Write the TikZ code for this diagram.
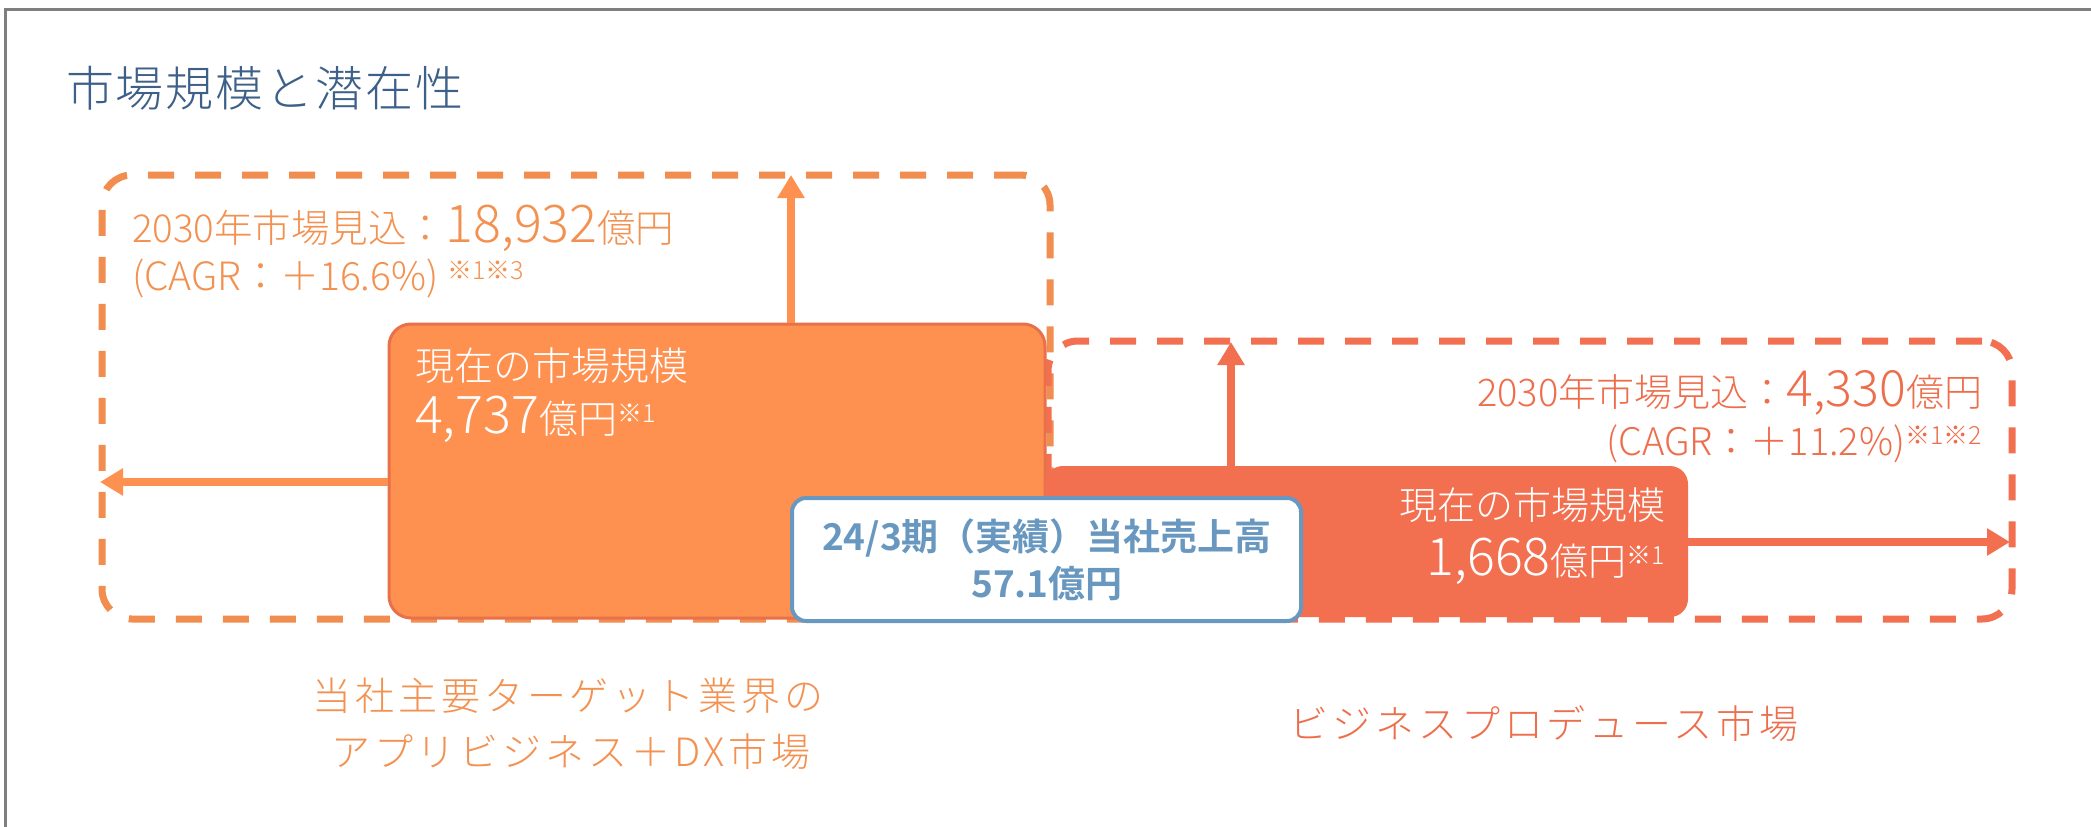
\documentclass[tikz,border=0pt]{standalone}
\usepackage{fontspec}
\IfFontExistsTF{Noto Sans CJK JP Light}{\def\basefam{Noto Sans CJK JP Light}}{\def\basefam{Noto Sans CJK JP}}
\setmainfont{\basefam}[BoldFont={Noto Sans CJK JP Bold}]
\newfontfamily\titlefont[LetterSpace=4]{\basefam}
\newfontfamily\lblfont[LetterSpace=10]{\basefam}
\usetikzlibrary{arrows.meta}
\definecolor{frameC}{HTML}{7F7F7F}
\definecolor{dashL}{HTML}{F28D50}
\definecolor{fillL}{HTML}{FE9150}
\definecolor{edgeL}{HTML}{E8704A}
\definecolor{redO}{HTML}{F27050}
\definecolor{txtL}{HTML}{F39150}
\definecolor{txtR}{HTML}{EE6E4C}
\definecolor{blueT}{HTML}{6898C0}
\definecolor{titleC}{HTML}{3D6089}
\newcommand{\fs}[1]{\fontsize{#1}{#1}\selectfont}
\newcommand{\note}[1]{\raisebox{11pt}{\fs{25}#1}}
\begin{document}
\begin{tikzpicture}[x=1pt,y=-1pt,
  dashbox/.style={draw, dash pattern=on 26pt off 21pt, line width=7pt, rounded corners=30pt, inner sep=0pt},
  fillbox/.style={inner sep=0pt},
  arrL/.style={draw=fillL, line width=8pt, -{Triangle[length=23pt,width=26pt]}},
  arrR/.style={draw=redO, line width=8pt, -{Triangle[length=23pt,width=26pt]}},
  txt/.style={inner sep=0pt, outer sep=0pt}]
\useasboundingbox (0,0) rectangle (2091,827);
\fill[white] (0,0) rectangle (2091,827);
\draw[frameC, line width=3pt] (5,827) -- (5,9) -- (2091,9);
% dashed outline boxes
\node[dashbox, draw=dashL, minimum width=948pt, minimum height=444pt] (ldash) at (576,397) {};
\node[dashbox, draw=redO, minimum width=964pt, minimum height=278pt] (rdash) at (1530,480) {};
% arrow end points
\coordinate (upL) at (791,175);
\coordinate (leftL) at (100,482);
\coordinate (upR) at (1231,342);
\coordinate (rightR) at (2010,542);
% filled boxes
\node[fillbox, fill=fillL, draw=edgeL, line width=3pt, rounded corners=22pt, minimum width=656pt, minimum height=294pt] (lfill) at (717,471) {};
\node[fillbox, fill=redO, rounded corners=18pt, minimum width=643pt, minimum height=151pt] (rfill) at (1366.5,541.5) {};
\draw[arrL] (lfill.north -| upL) -- (upL);
\draw[arrL] (lfill.west |- leftL) -- (leftL);
\draw[arrR] (rfill.north -| upR) -- (upR);
\draw[arrR] (rfill.east |- rightR) -- (rightR);
% centre box
\node[fillbox, fill=white, draw=blueT, line width=4pt, rounded corners=14pt, minimum width=509pt, minimum height=123pt] (cbox) at (1046.5,559.5) {};
% title
\node[txt, anchor=base west, text=titleC] (title) at (66,106) {\titlefont\fs{48}市場規模と潜在性};
% left texts
\node[txt, anchor=base west, text=txtL] (l1) at (132,242) {\fs{38.5}2030年市場見込：{\fs{52}18,932}億円};
\node[txt, anchor=base west, text=txtL] (l2) at (132,290) {\fs{39}(CAGR：＋16.6\%) \note{※1※3}};
\node[txt, anchor=base west, text=white] (l3) at (415,380) {\fs{39}現在の市場規模};
\node[txt, anchor=base west, text=white] (l4) at (415,433) {\fs{52}4,737{\fs{39}億円}\note{※1}};
% right texts
\node[txt, anchor=base east, text=txtR] (r1) at (1982,406) {\fs{38}2030年市場見込：{\fs{50}4,330}億円};
\node[txt, anchor=base east, text=txtR] (r2) at (1982,455) {\fs{38}(CAGR：＋11.2\%)\note{※1※2}};
\node[txt, anchor=base east, text=white] (r3) at (1665,519) {\fs{38}現在の市場規模};
\node[txt, anchor=base east, text=white] (r4) at (1665,575) {\fs{52}1,668{\fs{38}億円}\note{※1}};
% centre texts
\node[txt, anchor=base, text=blueT, font=\bfseries] (c1) at (1047,550) {\fs{37}24/3期（実績）当社売上高};
\node[txt, anchor=base, text=blueT, font=\bfseries] (c2) at (1047,597) {\fs{37}57.1億円};
% bottom labels
\node[txt, anchor=base, text=txtL] (b1) at (568,710) {\lblfont\fs{39}当社主要ターゲット業界の};
\node[txt, anchor=base, text=txtL] (b2) at (571,766) {\lblfont\fs{39}アプリビジネス＋DX市場};
\node[txt, anchor=base, text=txtR] (b3) at (1544,738) {\lblfont\fs{39}ビジネスプロデュース市場};
\end{tikzpicture}
\end{document}
